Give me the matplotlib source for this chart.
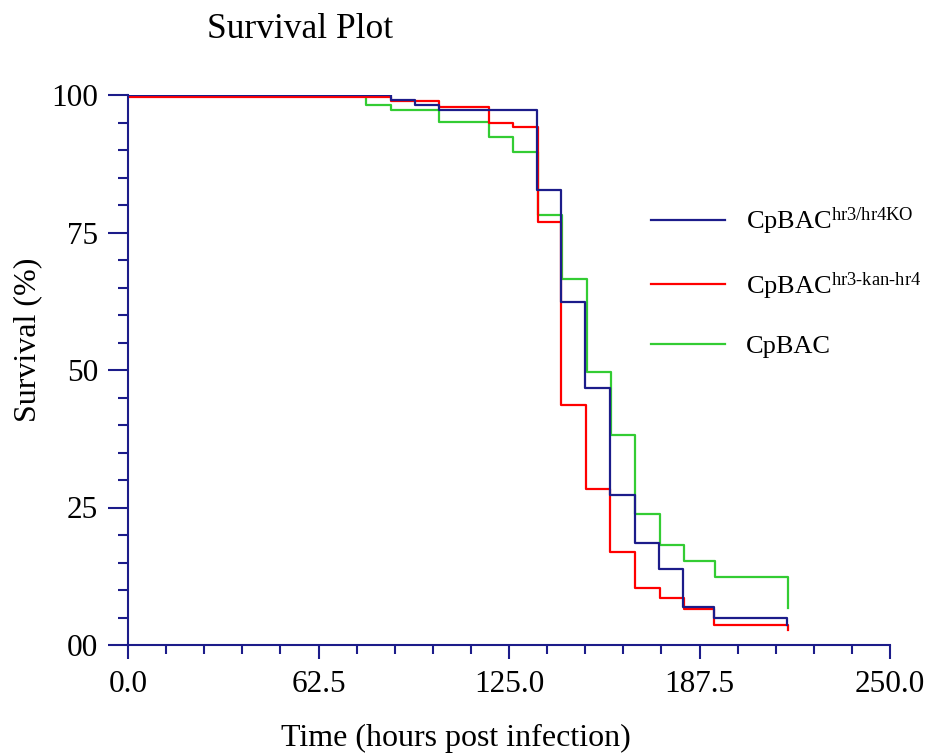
import numpy as np
import matplotlib
matplotlib.use("Agg")
import matplotlib.pyplot as plt
from matplotlib.ticker import MultipleLocator

# time (h) at which each step starts, and survival (%) from that time on
ko_t = [0, 86.2, 94.2, 102.1, 134.1, 142.1, 150.0, 158.1, 166.2, 174.2, 182.2, 192.2, 216.2]
ko_s = [100, 99.1, 98.2, 97.2, 82.7, 62.3, 46.8, 27.3, 18.6, 13.9, 6.9, 5.0, 3.6]

kan_t = [0, 86.2, 102.1, 118.4, 126.4, 134.4, 142.1, 150.3, 158.3, 166.4, 174.4, 182.4, 192.4, 216.4]
kan_s = [99.7, 98.9, 97.9, 95.0, 94.1, 77.0, 43.6, 28.4, 17.0, 10.3, 8.5, 6.5, 3.6, 2.7]

wt_t = [0, 78.1, 86.2, 102.1, 118.4, 126.4, 134.4, 142.4, 150.5, 158.4, 166.4, 174.4, 182.4, 192.5, 216.5]
wt_s = [100, 98.1, 97.2, 95.1, 92.4, 89.6, 78.1, 66.6, 49.6, 38.1, 23.8, 18.1, 15.3, 12.4, 6.7]

labels = [r"CpBAC$^{\mathrm{hr3/hr4KO}}$",
          r"CpBAC$^{\mathrm{hr3\text{-}kan\text{-}hr4}}$",
          "CpBAC"]
xticks = [0, 62.5, 125, 187.5, 250]
xticklabels = ["0.0", "62.5", "125.0", "187.5", "250.0"]
yticks = [0, 25, 50, 75, 100]
yticklabels = ["00", "25", "50", "75", "100"]

plt.rcParams['font.family'] = ['Liberation Serif', 'DejaVu Serif']
plt.rcParams['mathtext.fontset'] = 'custom'
plt.rcParams['mathtext.rm'] = 'Liberation Serif'
plt.rcParams['mathtext.it'] = 'Liberation Serif:italic'

navy = '#1c1c8a'
fig = plt.figure(figsize=(9.38, 7.54), dpi=100)
ax = fig.add_axes([128/938, 1 - 645/754, 762/938, 550/754])

ax.step(ko_t, ko_s, where='post', color=navy, lw=1.6, label=labels[0], zorder=3)
ax.step(kan_t, kan_s, where='post', color='#ff0000', lw=1.6, label=labels[1], zorder=2)
ax.step(wt_t, wt_s, where='post', color='#33cc33', lw=1.6, label=labels[2], zorder=1)

ax.set_xlim(0, 250)
ax.set_ylim(0, 100)
for s in ['top', 'right']:
    ax.spines[s].set_visible(False)
for s in ['left', 'bottom']:
    ax.spines[s].set_color(navy)
    ax.spines[s].set_linewidth(1.5)

ax.set_xticks(xticks)
ax.set_xticklabels(xticklabels)
ax.set_yticks(yticks)
ax.set_yticklabels(yticklabels)
ax.xaxis.set_minor_locator(MultipleLocator(12.5))
ax.yaxis.set_minor_locator(MultipleLocator(5))
ax.tick_params(axis='both', which='both', color=navy, width=1.5, direction='out')
ax.tick_params(axis='x', which='major', length=10, pad=8, labelsize=22.5)
ax.tick_params(axis='x', which='minor', length=6.5)
ax.tick_params(axis='y', which='major', length=14.5, pad=7, labelsize=22.5)
ax.tick_params(axis='y', which='minor', length=7)

ax.set_xlabel("Time (hours post infection)", fontsize=23)
ax.xaxis.set_label_coords(0.43, -0.143)
ax.set_ylabel("Survival (%)", fontsize=23)
ax.yaxis.set_label_coords(-0.113, 0.555)
fig.text(300/938, 1 - 30/754, "Survival Plot", fontsize=25.5, ha='center', va='center')

ax.legend(loc='upper left', bbox_to_anchor=(0.655, 0.842), frameon=False,
          fontsize=19, handlelength=2.8, handletextpad=0.8, labelspacing=1.25)

fig.savefig("out.png", dpi=100)
